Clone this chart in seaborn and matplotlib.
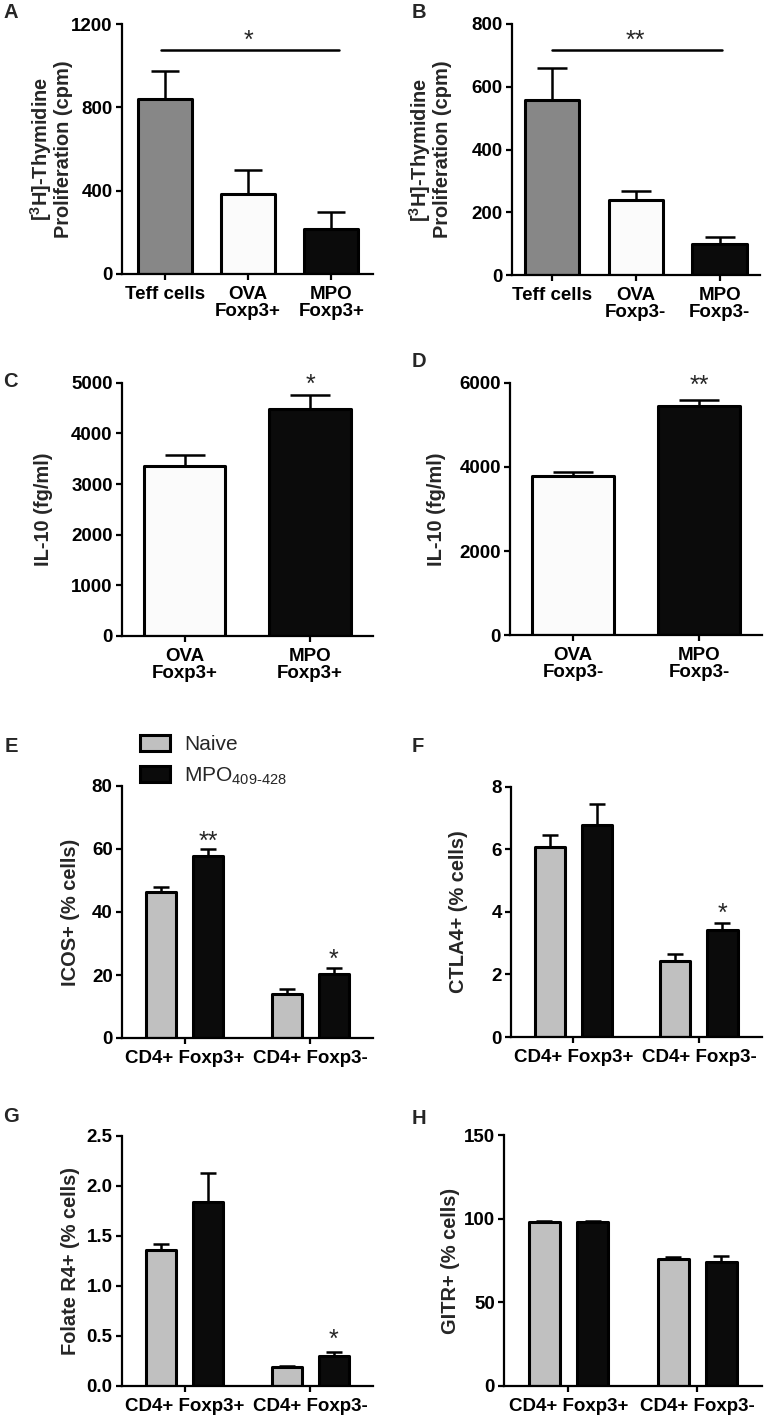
import numpy as np
import pandas as pd
import matplotlib
matplotlib.use("Agg")
import matplotlib.pyplot as plt
import seaborn as sns
from matplotlib.patches import Patch

# ---------------- data ----------------
a_groups = ["Teff cells", "OVA\nFoxp3+", "MPO\nFoxp3+"]
a_mean = [838, 382, 217]
a_sem = [136, 117, 79]

b_groups = ["Teff cells", "OVA\nFoxp3-", "MPO\nFoxp3-"]
b_mean = [558, 239, 98]
b_sem = [101, 29, 22]

c_groups = ["OVA\nFoxp3+", "MPO\nFoxp3+"]
c_mean = [3360, 4486]
c_sem = [203, 263]

d_groups = ["OVA\nFoxp3-", "MPO\nFoxp3-"]
d_mean = [3796, 5458]
d_sem = [88, 129]

cell_types = ["CD4+ Foxp3+", "CD4+ Foxp3-"]
conditions = ["Naive", "MPO$_{\\mathrm{409\u2010428}}$"]

e_naive, e_naive_sem = [46.4, 14.0], [1.6, 1.6]
e_mpo, e_mpo_sem = [57.8, 20.3], [2.2, 2.0]
f_naive, f_naive_sem = [6.08, 2.44], [0.37, 0.20]
f_mpo, f_mpo_sem = [6.79, 3.42], [0.67, 0.21]
g_naive, g_naive_sem = [1.36, 0.19], [0.06, 0.01]
g_mpo, g_mpo_sem = [1.84, 0.30], [0.29, 0.04]
h_naive, h_naive_sem = [98.2, 76.1], [0.6, 0.8]
h_mpo, h_mpo_sem = [98.2, 74.1], [0.3, 3.8]

# ---------------- style ----------------
sns.set_theme(style="ticks")
plt.rcParams.update({
    "font.family": ["Liberation Sans", "DejaVu Sans"],
    "font.weight": "bold",
    "axes.labelweight": "bold",
    "mathtext.fontset": "custom",
    "mathtext.rm": "Liberation Sans:weight=normal",
    "mathtext.bf": "Liberation Sans:weight=bold",
    "axes.linewidth": 1.6,
    "axes.edgecolor": "black",
})

W, H = 765, 1419
fig = plt.figure(figsize=(W / 100, H / 100), dpi=100)

TICK_FS = 13.5
LABEL_FS = 14.4
EDGE_LW = 2.2
ERR_LW = 1.8
STAR_FS = 18


def add_ax(l, r, t, b):
    return fig.add_axes([l / W, 1 - b / H, (r - l) / W, (b - t) / H])


def style_ax(ax, ylabel, yticks, label_cx, l, r, fmt=None):
    sns.despine(ax=ax)
    ax.set_ylim(yticks[0], yticks[-1])
    ax.set_yticks(yticks)
    if fmt:
        ax.set_yticklabels([fmt % v for v in yticks])
    ax.tick_params(axis="both", colors="black", width=1.6, length=4.5,
                   labelsize=TICK_FS, pad=2)
    ax.tick_params(axis="x", pad=4)
    for t in ax.get_xticklabels() + ax.get_yticklabels():
        t.set_fontweight("bold")
    for t in ax.get_xticklabels():
        t.set_linespacing(1.0)
    for p in ax.patches:
        p.set_joinstyle("round")
    ax.set_xlabel("")
    ax.set_ylabel(ylabel, fontsize=LABEL_FS, fontweight="bold",
                  linespacing=1.0, va="center")
    ax.yaxis.set_label_coords((label_cx - l) / (r - l), 0.5)


def add_errors(ax, sems_in_patch_order, capsize):
    bars = list(ax.patches)
    xs = [p.get_x() + p.get_width() / 2 for p in bars]
    hs = [p.get_height() for p in bars]
    ax.errorbar(xs, hs, yerr=[np.zeros(len(hs)), sems_in_patch_order],
                fmt="none", ecolor="black", elinewidth=ERR_LW,
                capsize=capsize, capthick=ERR_LW, zorder=3)
    return xs, hs


def star(ax, x, y, text, offset_px):
    ax.annotate(text, xy=(x, y), xytext=(0, offset_px * 0.72),
                textcoords="offset points", ha="center", va="baseline",
                fontsize=STAR_FS, fontweight="normal", annotation_clip=False)


def simple_panel(rect, groups, means, sems, colors, ylabel, yticks,
                 label_cx, xlim, capsize, width=0.65):
    l, r, t, b = rect
    ax = add_ax(*rect)
    df = pd.DataFrame({"group": groups, "value": means})
    sns.barplot(data=df, x="group", y="value", hue="group", order=groups,
                hue_order=groups, palette=colors, dodge=False, legend=False,
                width=width, errorbar=None, linewidth=EDGE_LW,
                edgecolor="black", saturation=1, ax=ax)
    xs, hs = add_errors(ax, sems, capsize)
    ax.set_xlim(*xlim)
    style_ax(ax, ylabel, yticks, label_cx, l, r)
    return ax, xs, hs


def grouped_panel(rect, naive, naive_sem, mpo, mpo_sem, ylabel, yticks,
                  label_cx, fmt=None):
    l, r, t, b = rect
    ax = add_ax(*rect)
    df = pd.DataFrame({
        "cell": cell_types * 2,
        "cond": [conditions[0]] * 2 + [conditions[1]] * 2,
        "value": naive + mpo,
    })
    sns.barplot(data=df, x="cell", y="value", hue="cond", order=cell_types,
                hue_order=conditions, palette=["#c0c0c0", "#0b0b0b"],
                width=0.75, gap=0.36, errorbar=None, legend=False,
                linewidth=EDGE_LW, edgecolor="black", saturation=1, ax=ax)
    xs, hs = add_errors(ax, naive_sem + mpo_sem, 6)
    ax.set_xlim(-0.5, 1.5)
    style_ax(ax, ylabel, yticks, label_cx, l, r, fmt)
    return ax, xs, hs


thy_label = "[$^{\\mathbf{3}}$H]-Thymidine\nProliferation (cpm)"

# Panel A
rA = (121.7, 373, 24, 274)
axA, xs, hs = simple_panel(rA, a_groups, a_mean, a_sem,
                           ["#878787", "#fbfbfb", "#0b0b0b"], thy_label,
                           [0, 400, 800, 1200], 51, (-0.52, 2.5), 10)
axA.plot([xs[0] - 0.05, xs[-1] + 0.09], [1075, 1075], color="black",
         lw=1.8, clip_on=False)
star(axA, xs[1], 1075, "*", 2.5)

# Panel B
rB = (511.7, 760, 24, 275)
axB, xs, hs = simple_panel(rB, b_groups, b_mean, b_sem,
                           ["#878787", "#fbfbfb", "#0b0b0b"], thy_label,
                           [0, 200, 400, 600, 800], 430, (-0.48, 2.48), 11)
axB.plot([xs[0], xs[-1] + 0.03], [717, 717], color="black", lw=1.8,
         clip_on=False)
star(axB, xs[1], 717, "**", 2.5)

# Panel C
rC = (121.7, 373, 382.7, 636)
axC, xs, hs = simple_panel(rC, c_groups, c_mean, c_sem,
                           ["#fbfbfb", "#0b0b0b"], "IL-10 (fg/ml)",
                           [0, 1000, 2000, 3000, 4000, 5000], 44,
                           (-0.5, 1.5), 14.5)
star(axC, xs[1], c_mean[1] + c_sem[1], "*", 3.2)

# Panel D
rD = (510, 762, 382.7, 635.5)
axD, xs, hs = simple_panel(rD, d_groups, d_mean, d_sem,
                           ["#fbfbfb", "#0b0b0b"], "IL-10 (fg/ml)",
                           [0, 2000, 4000, 6000], 437, (-0.5, 1.5), 14.5)
star(axD, xs[1], d_mean[1] + d_sem[1], "**", 7.5)

# Panel E
rE = (121.7, 373, 786, 1038)
axE, xs, hs = grouped_panel(rE, e_naive, e_naive_sem, e_mpo, e_mpo_sem,
                            "ICOS+ (% cells)", [0, 20, 40, 60, 80], 71)
star(axE, xs[2], e_mpo[0] + e_mpo_sem[0], "**", 0)
star(axE, xs[3], e_mpo[1] + e_mpo_sem[1], "*", 0.5)
handles = [Patch(facecolor=c, edgecolor="black", linewidth=EDGE_LW,
                 joinstyle="round", label=lab)
           for c, lab in zip(["#c0c0c0", "#0b0b0b"], conditions)]
axE.legend(handles=handles, loc="upper left",
           bbox_to_anchor=(140 / W, 1 - 735 / H), bbox_transform=fig.transFigure,
           frameon=False, borderpad=0, borderaxespad=0, handlelength=1.45,
           handleheight=0.77, handletextpad=0.67, labelspacing=0.55,
           prop={"family": "Liberation Sans", "weight": "normal", "size": 15})

# Panel F
rF = (510.7, 761.7, 786.7, 1037)
axF, xs, hs = grouped_panel(rF, f_naive, f_naive_sem, f_mpo, f_mpo_sem,
                            "CTLA4+ (% cells)", [0, 2, 4, 6, 8], 459)
star(axF, xs[3], f_mpo[1] + f_mpo_sem[1], "*", 2.5)

# Panel G
rG = (121.7, 373, 1135.7, 1386)
axG, xs, hs = grouped_panel(rG, g_naive, g_naive_sem, g_mpo, g_mpo_sem,
                            "Folate R4+ (% cells)",
                            [0, 0.5, 1.0, 1.5, 2.0, 2.5], 71, fmt="%.1f")
star(axG, xs[3], g_mpo[1] + g_mpo_sem[1], "*", 5.5)

# Panel H
rH = (504, 761.7, 1135, 1386)
axH, xs, hs = grouped_panel(rH, h_naive, h_naive_sem, h_mpo, h_mpo_sem,
                            "GITR+ (% cells)", [0, 50, 100, 150], 451)

# Panel letters
for letter, x, y in [("A", 3, 13), ("B", 412, 13), ("C", 3, 381.7),
                     ("D", 412, 361.7), ("E", 5, 746), ("F", 412, 746),
                     ("G", 3, 1116.7), ("H", 412, 1119)]:
    fig.text(x / W, 1 - y / H, letter, fontsize=14.5, fontweight="bold",
             ha="left", va="center")

fig.savefig("out.png", dpi=100, facecolor="white")
